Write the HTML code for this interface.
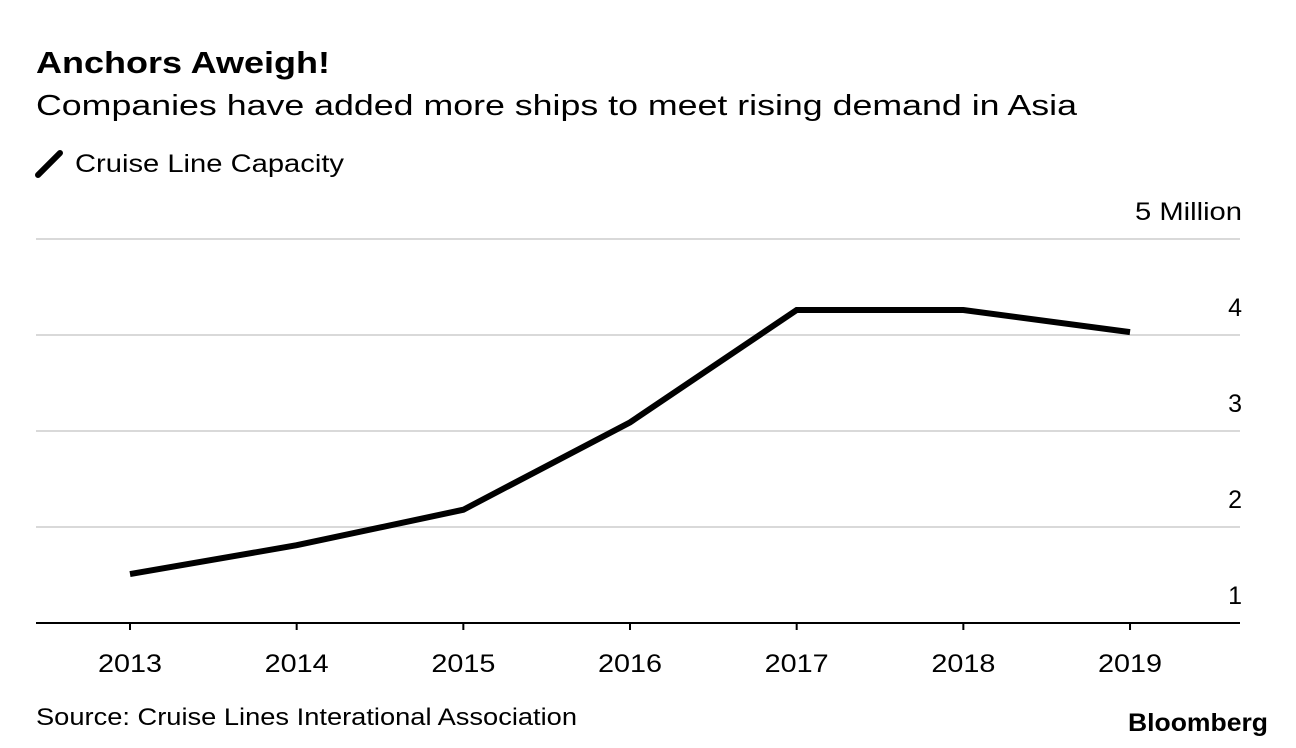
<!DOCTYPE html>
<html><head><meta charset="utf-8"><style>
body{margin:0;width:1296px;height:748px;background:#fff;overflow:hidden;font-family:"Liberation Sans",Arial,sans-serif;}
svg{position:absolute;left:0;top:0}
</style></head><body>
<svg width="1296" height="748">
<text x="36" y="73" font-size="31" font-weight="bold" fill="#000" textLength="294" lengthAdjust="spacingAndGlyphs">Anchors Aweigh!</text>
<text x="36" y="115" font-size="29" fill="#000" textLength="1041" lengthAdjust="spacingAndGlyphs">Companies have added more ships to meet rising demand in Asia</text>
<line x1="38" y1="175" x2="60" y2="153" stroke="#000" stroke-width="6" stroke-linecap="round"/>
<text x="75" y="172" font-size="25" fill="#000" textLength="269" lengthAdjust="spacingAndGlyphs">Cruise Line Capacity</text>
<g id="grid"></g>
<g id="xax"></g>
<path id="line" fill="none" stroke="#000" stroke-width="6" stroke-linejoin="miter"/>
<text x="36" y="725" font-size="24" fill="#000" textLength="541" lengthAdjust="spacingAndGlyphs">Source: Cruise Lines Interational Association</text>
<text x="1128" y="731" font-size="25" font-weight="bold" fill="#000" textLength="140" lengthAdjust="spacingAndGlyphs">Bloomberg</text>
</svg>
<script>
const years=["2013","2014","2015","2016","2017","2018","2019"];
const capacity=[1.51,1.81,2.18,3.09,4.26,4.26,4.03];
const yTicks=[1,2,3,4,5];
const yTickLabels=["1","2","3","4","5 Million"];
const NS="http://www.w3.org/2000/svg";
function X(i){return 130+i*166.67;}
function Y(v){return 623-(v-1)*96;}
const grid=document.getElementById('grid');
yTicks.forEach((t,i)=>{
 if(t>1){const l=document.createElementNS(NS,'line');
 l.setAttribute('x1',36);l.setAttribute('x2',1240);l.setAttribute('y1',Y(t));l.setAttribute('y2',Y(t));
 l.setAttribute('stroke','#d9d9d9');l.setAttribute('stroke-width',2);
 
 
 grid.appendChild(l);}
 const tx=document.createElementNS(NS,'text');
 tx.setAttribute('x',1242);tx.setAttribute('y',Y(t)-19);tx.setAttribute('text-anchor','end');
 tx.setAttribute('font-size',25);tx.textContent=yTickLabels[i];
 if(yTickLabels[i].length>3){tx.setAttribute('textLength',107);tx.setAttribute('lengthAdjust','spacingAndGlyphs');}
 
 
 grid.appendChild(tx);
});
const xax=document.getElementById('xax');
const ax=document.createElementNS(NS,'line');
ax.setAttribute('x1',36);ax.setAttribute('x2',1240);ax.setAttribute('y1',623);ax.setAttribute('y2',623);
ax.setAttribute('stroke','#000');ax.setAttribute('stroke-width',2);


xax.appendChild(ax);
years.forEach((y,i)=>{
 const tk=document.createElementNS(NS,'line');
 tk.setAttribute('x1',X(i));tk.setAttribute('x2',X(i));tk.setAttribute('y1',623);tk.setAttribute('y2',630);
 tk.setAttribute('stroke','#000');tk.setAttribute('stroke-width',2);
 
 
 xax.appendChild(tk);
 const t=document.createElementNS(NS,'text');
 t.setAttribute('x',X(i));t.setAttribute('y',672);t.setAttribute('text-anchor','middle');t.setAttribute('font-size',25);
 t.setAttribute('textLength',64);t.setAttribute('lengthAdjust','spacingAndGlyphs');
 t.textContent=y;
 
 
 xax.appendChild(t);
});
document.getElementById('line').setAttribute('d',capacity.map((v,i)=>(i?'L':'M')+X(i)+','+Y(v)).join(' '));
</script>
</body></html>
